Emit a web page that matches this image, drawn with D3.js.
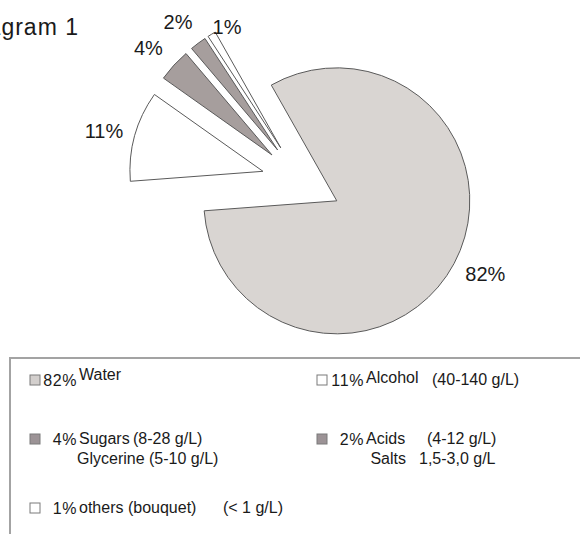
<!DOCTYPE html>
<html>
<head>
<meta charset="utf-8">
<script src="https://cdn.jsdelivr.net/npm/d3@7"></script>
<style>
  body { margin: 0; background: #fff; }
  svg { display: block; font-family: "Liberation Sans", Arial, sans-serif; }
</style>
</head>
<body>
<svg id="chart" width="580" height="534"></svg>
<script>
// data
const categories = ["Water", "Alcohol", "Sugars", "Acids", "others (bouquet)"];
const shares = [82, 11, 4, 2, 1];
const pctLabels = ["82%", "11%", "4%", "2%", "1%"];
const details = ["", "(40-140 g/L)", "(8-28 g/L)", "(4-12 g/L)", "(< 1 g/L)"];
const subNames = ["", "", "Glycerine (5-10 g/L)", "Salts", ""];
const subDetails = ["", "", "", "1,5-3,0 g/L", ""];

const svg = d3.select("#chart");

// pie geometry: every slice is pulled out from the same centre
const cx = 301.5, cy = 182, radius = 133;
const startDeg = -29.5;
const explodeDist = 40;
const labelRadius = 165;
// small hand moves of the labels, as in the source
const labelNudge = {
    "Water": [3, -5],
    "Alcohol": [0, 4],
    "Sugars": [-2, 4],
    "Acids": [-1, 4],
    "others (bouquet)": [32, 20]
};

const fill = d3.scaleOrdinal()
    .domain(categories)
    .range(["#d9d5d2", "#ffffff", "#a69e9d", "#a69e9d", "#ffffff"]);

const rad = d => d * Math.PI / 180;

const pie = d3.pie()
    .sort(null)
    .value(d => d.value)
    .startAngle(rad(startDeg))
    .endAngle(rad(startDeg) + 2 * Math.PI);

const rows = categories.map((c, i) => ({ name: c, value: shares[i], pct: pctLabels[i] }));
const arcs = pie(rows);

const arc = d3.arc().innerRadius(0).outerRadius(radius);

const dir = a => [Math.sin(a), -Math.cos(a)];
const mid = d => (d.startAngle + d.endAngle) / 2;

const g = svg.append("g").attr("transform", "translate(" + cx + "," + cy + ")");

g.selectAll("path.slice")
    .data(arcs)
    .enter()
    .append("path")
    .attr("class", "slice")
    .attr("transform", d => {
        const v = dir(mid(d));
        return "translate(" + (v[0] * explodeDist) + "," + (v[1] * explodeDist) + ")";
    })
    .attr("d", arc)
    .attr("fill", d => fill(d.data.name))
    .attr("stroke", "#5a5a5a")
    .attr("stroke-width", 1);

g.selectAll("text.pct")
    .data(arcs)
    .enter()
    .append("text")
    .attr("class", "pct")
    .attr("x", d => {
        const n = labelNudge[d.data.name] || [0, 0];
        return dir(mid(d))[0] * (explodeDist + labelRadius) + n[0];
    })
    .attr("y", d => {
        const n = labelNudge[d.data.name] || [0, 0];
        return dir(mid(d))[1] * (explodeDist + labelRadius) + n[1];
    })
    .attr("text-anchor", "middle")
    .attr("dominant-baseline", "central")
    .style("font-size", "20px")
    .style("fill", "#1a1a1a")
    .text(d => d.data.pct);

// title (cut off at the left edge, as in the source)
svg.append("text")
    .attr("x", 79)
    .attr("y", 35)
    .attr("text-anchor", "end")
    .style("font-size", "23px")
    .style("letter-spacing", "1px")
    .style("fill", "#1a1a1a")
    .text("Diagram 1");

// legend box
svg.append("rect")
    .attr("x", 10)
    .attr("y", 358)
    .attr("width", 620)
    .attr("height", 300)
    .attr("fill", "none")
    .attr("stroke", "#a3a3a3")
    .attr("stroke-width", 2);

const colX = [30, 317];
const rowY = [375, 434, 503];
const cell = [[0, 0], [1, 0], [0, 1], [1, 1], [0, 2]];
const detailX = [0, 115, 103, 110, 193];
const nameDy = [-5, -2, 0, 0, 0];

const legend = svg.selectAll("g.item")
    .data(rows)
    .enter()
    .append("g")
    .attr("class", "item")
    .attr("transform", (d, i) => "translate(" + colX[cell[i][0]] + "," + rowY[cell[i][1]] + ")");

legend.append("rect")
    .attr("width", 10)
    .attr("height", 10)
    .attr("fill", d => d.name === "Water" ? "#d3cfcd" : (fill(d.name) === "#ffffff" ? "#fff" : "#9c9396"))
    .attr("stroke", "#7a7a7a")
    .attr("stroke-width", 1);

legend.append("text")
    .attr("x", 47)
    .attr("y", 11)
    .attr("text-anchor", "end")
    .style("font-size", "16px")
    .style("letter-spacing", "0.6px")
    .style("fill", "#1a1a1a")
    .text(d => d.pct);

legend.append("text")
    .attr("x", 49)
    .attr("y", (d, i) => 10 + nameDy[i])
    .style("font-size", "16px")
    .style("fill", "#1a1a1a")
    .text(d => d.name);

legend.append("text")
    .attr("x", (d, i) => detailX[i])
    .attr("y", 10)
    .style("font-size", "16px")
    .style("fill", "#1a1a1a")
    .text((d, i) => details[i]);

legend.append("text")
    .attr("x", (d, i) => i === 3 ? 89 : 47)
    .attr("y", 30)
    .attr("text-anchor", (d, i) => i === 3 ? "end" : "start")
    .style("font-size", "16px")
    .style("fill", "#1a1a1a")
    .text((d, i) => subNames[i]);

legend.append("text")
    .attr("x", 102)
    .attr("y", 30)
    .style("font-size", "16px")
    .style("fill", "#1a1a1a")
    .text((d, i) => subDetails[i]);
</script>
</body>
</html>
